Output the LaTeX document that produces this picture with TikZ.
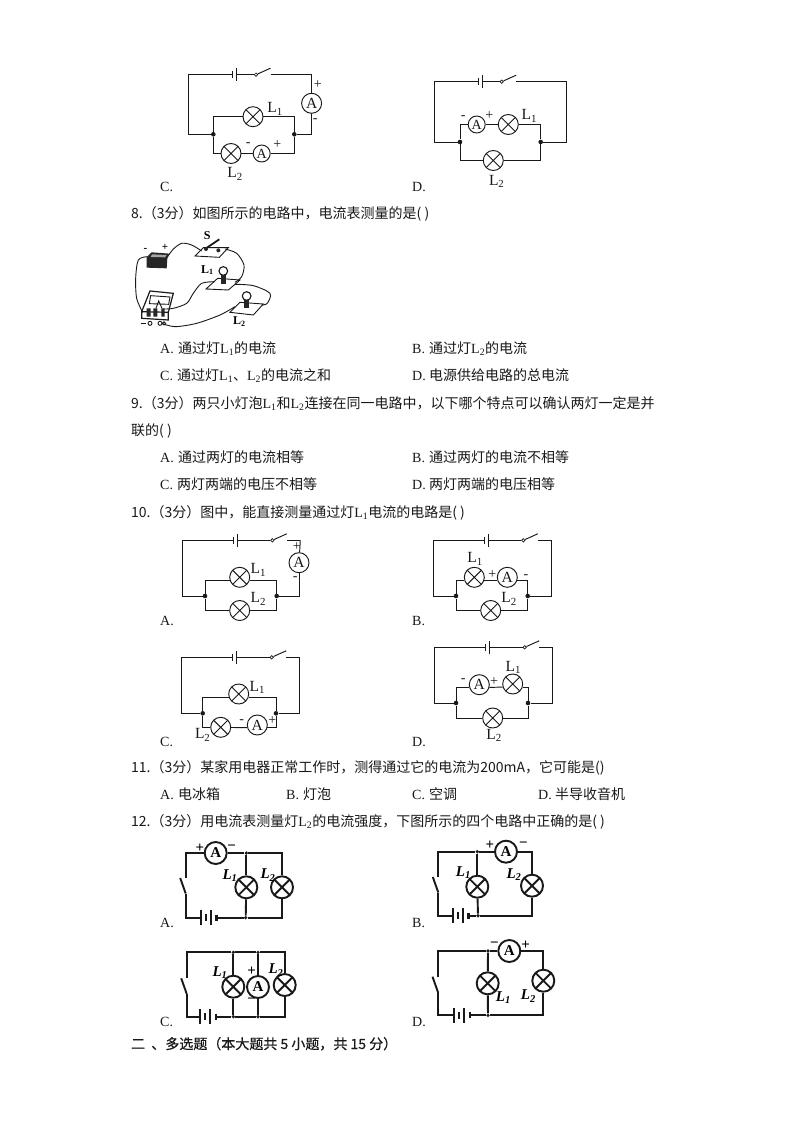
\documentclass[tikz,border=0pt]{standalone}
\usepackage{fontspec}
\usepackage{tikz}
\usetikzlibrary{calc, positioning}
\setmainfont{Noto Sans CJK SC}
\newfontfamily\latfont{Liberation Serif}
\newfontfamily\headfont[FakeBold=0.6]{Noto Sans CJK SC}
\newcommand{\Lone}{{\latfont L\textsubscript{1}}}
\newcommand{\Ltwo}{{\latfont L\textsubscript{2}}}
\definecolor{printink}{rgb}{0.1, 0.1, 0.1}
% top wire of a drawn circuit: name, left, top, battery, switch, right
\newcommand{\schtop}[6]{%
	\coordinate (#1bl) at (#4,#3);
	\coordinate (#1br) at (#4+4.4,#3);
	\node [swpivot] (#1sw) at (#5,#3) {};
	\coordinate (#1tip) at (#5+14.5,#3-6.5);
	\coordinate (#1sr) at (#5+14.5,#3);
	\coordinate (#1tl) at (#2,#3);
	\coordinate (#1tr) at (#6,#3);
	\draw [wire] (#4,#3-3.7) -- (#4,#3+3.7);
	\draw [wire] (#4+4.4,#3-6.3) -- (#4+4.4,#3+6.3);
	\draw [wire] (#1bl) -- (#1tl);
	\draw [wire] (#1br) -- (#1sw);
	\draw [wire] (#1sw) -- (#1tip);
	\draw [wire] (#1sr) -- (#1tr);
}
% battery and switch of a scanned circuit: name, left, switch top, battery, bottom
\newcommand{\scanpart}[5]{%
	\coordinate (#1st) at (#2,#3);
	\coordinate (#1sb) at (#2,#3+15.5);
	\coordinate (#1tip) at (#2-5.5,#3);
	\coordinate (#1bl) at (#4,#5);
	\coordinate (#1br) at (#4+16,#5);
	\draw [scanwire] (#1sb) -- (#1tip);
	\draw [scanwire] (#4,#5-7.5) -- (#4,#5+7.5);
	\draw [scanwire, line width=2.2pt] (#4+5.3,#5-3.5) -- (#4+5.3,#5+3.5);
	\draw [scanwire] (#4+10.3,#5-7.5) -- (#4+10.3,#5+7.5);
	\draw [scanwire, line width=2.6pt] (#4+16,#5-3) -- (#4+16,#5+3);
	\draw [scanwire] (#1sb) |- (#1bl);
}
\begin{document}
\begin{tikzpicture}[
x=1pt, y=-1pt,
texts/.style = {anchor=base west, inner sep=0pt, text=printink, font=\fontsize{14}{16}\selectfont},
boldtexts/.style = {texts, font=\fontsize{14}{16}\selectfont\headfont},
optmark/.style = {anchor=base west, inner sep=0pt, text=printink, font=\fontsize{14}{16}\selectfont\latfont},
cktlabel/.style = {inner sep=0pt, text=printink, font=\fontsize{15.5}{17}\selectfont\latfont},
polarity/.style = {inner sep=0pt, text=printink, font=\fontsize{14}{16}\selectfont\latfont},
scanlabel/.style = {inner sep=0pt, text=black, font=\fontsize{15}{17}\selectfont\latfont\bfseries\itshape},
scanpol/.style = {inner sep=0pt, text=black, font=\fontsize{15}{17}\selectfont\latfont\bfseries},
wire/.style = {draw=printink, line width=0.95pt},
scanwire/.style = {draw=black!90, line width=1.9pt},
lampnode/.style = {circle, wire, inner sep=0pt, minimum size=20pt,
	path picture={\draw [wire] (path picture bounding box.north west) -- (path picture bounding box.south east)
	(path picture bounding box.north east) -- (path picture bounding box.south west);}},
meternode/.style = {circle, wire, inner sep=0pt, minimum size=20pt, text=printink, font=\fontsize{15.5}{17}\selectfont\latfont},
smallmeter/.style = {meternode, minimum size=17pt, font=\fontsize{14}{16}\selectfont\latfont},
scanlamp/.style = {circle, scanwire, inner sep=0pt, minimum size=22pt,
	path picture={\draw [scanwire] (path picture bounding box.north west) -- (path picture bounding box.south east)
	(path picture bounding box.north east) -- (path picture bounding box.south west);}},
scanmeter/.style = {circle, scanwire, inner sep=0pt, minimum size=22pt, text=black, font=\fontsize{15}{17}\selectfont\latfont\bfseries},
swpivot/.style = {circle, wire, line width=0.7pt, fill=white, inner sep=0pt, minimum size=3.4pt},
jdot/.style = {circle, fill=printink, inner sep=0pt, minimum size=4.6pt},
scandot/.style = {circle, fill=black!90, inner sep=0pt, minimum size=3.6pt},
sketchline/.style = {draw=black!90, line width=0.9pt}
]
\useasboundingbox (0,0) rectangle (794,1123);
\fill [white] (0,0) rectangle (794,1123);

% circuit 7C
\schtop{sevc}{188}{74.7}{232.3}{256}{311.6}
\node [jdot] (sevcjl) at (213.3,134.3) {};
\node [jdot] (sevcjr) at (294.3,134.3) {};
\node [lampnode] (sevclone) at (253,116.7) {};
\node [lampnode] (sevcltwo) at (231,153.5) {};
\node [smallmeter] (sevcmeter) at (261.7,153.5) {A};
\node [meternode] (sevcmain) at (311.6,103.3) {A};
\draw [wire] (sevctl) |- (sevcjl);
\draw [wire] (sevctr) -- (sevcmain);
\draw [wire] (sevcmain) |- (sevcjr);
\draw [wire] (sevcjl) |- (sevclone);
\draw [wire] (sevclone) -| (sevcjr);
\draw [wire] (sevcjl) |- (sevcltwo);
\draw [wire] (sevcltwo) -- (sevcmeter);
\draw [wire] (sevcmeter) -| (sevcjr);
\node [cktlabel] (sevcnl) at (275,109) {L\textsubscript{1}};
\node [cktlabel] (sevcnt) at (235,174) {L\textsubscript{2}};
\node [polarity] (sevcpa) at (317.7,85) {+};
\node [polarity] (sevcpb) at (315.3,121) {-};
\node [polarity] (sevcpc) at (248.3,144.3) {-};
\node [polarity] (sevcpd) at (277.3,145) {+};
\node [optmark] (sevcopt) at (160,192) {C.};

% circuit 7D
\schtop{sevd}{434.3}{81.7}{478.3}{501.7}{566.7}
\node [jdot] (sevdjl) at (460,142) {};
\node [jdot] (sevdjr) at (540.7,142) {};
\node [smallmeter] (sevdmeter) at (476.7,124.5) {A};
\node [lampnode] (sevdlone) at (508.3,124.5) {};
\node [lampnode] (sevdltwo) at (493.3,160.5) {};
\draw [wire] (sevdtl) |- (sevdjl);
\draw [wire] (sevdtr) |- (sevdjr);
\draw [wire] (sevdjl) |- (sevdmeter);
\draw [wire] (sevdmeter) -- (sevdlone);
\draw [wire] (sevdlone) -| (sevdjr);
\draw [wire] (sevdjl) |- (sevdltwo);
\draw [wire] (sevdltwo) -| (sevdjr);
\node [cktlabel] (sevdnl) at (529.3,116) {L\textsubscript{1}};
\node [cktlabel] (sevdnt) at (496.7,181.7) {L\textsubscript{2}};
\node [polarity] (sevdpa) at (463.3,117.3) {-};
\node [polarity] (sevdpb) at (489.3,115.3) {+};
\node [optmark] (sevdopt) at (412,192) {D.};

% question 8
\node [texts] (qeight) at (131,218.5) {8.（3分）如图所示的电路中，电流表测量的是( )};
\begin{scope}[shift={(120,225)}, x=0.3333pt, y=-0.3333pt]
\fill [black!85] (80,97) -- (95,82) -- (150,86) -- (142,100) -- (140,130) -- (80,128) -- cycle;
\fill [black!35] (96,88) -- (140,90) -- (135,97) -- (92,96) -- cycle;
\draw [sketchline] plot [smooth] coordinates {(148,88) (160,72) (185,55) (215,60) (245,78)};
\draw [sketchline] plot [smooth] coordinates {(82,95) (55,105) (47,160) (50,220) (68,262)};
\draw [sketchline] (225,93) -- (250,68) -- (325,68) -- (298,97) -- cycle;
\draw [sketchline, line width=1.8pt] (255,72) -- (298,43);
\fill [black!85] (258,72) circle (6) (295,76) circle (6);
\draw [sketchline] plot [smooth] coordinates {(315,72) (350,85) (372,120) (365,155) (345,172)};
\draw [sketchline] (258,192) -- (293,160) -- (360,165) -- (325,195) -- cycle;
\draw [sketchline, line width=1.1pt] (310,138) circle (13);
\fill [black!85] (303,150) rectangle (317,178);
\draw [sketchline] plot [smooth] coordinates {(285,170) (245,175) (220,205) (200,235) (160,250) (130,252)};
\draw [sketchline] plot [smooth] coordinates {(345,178) (400,182) (450,205) (442,235) (425,240)};
\draw [sketchline] (330,262) -- (360,232) -- (430,237) -- (400,270) -- cycle;
\draw [sketchline, line width=1.1pt] (380,213) circle (13);
\fill [black!85] (373,226) rectangle (387,250);
\draw [sketchline] plot [smooth] coordinates {(345,245) (300,270) (230,295) (165,305) (125,295)};
\draw [sketchline, line width=1.2pt] (65,260) -- (90,198) -- (160,205) -- (145,262) -- cycle;
\draw [sketchline, line width=1.2pt] (65,260) -- (65,280) -- (145,285) -- (145,262);
\draw [sketchline] (92,212) -- (150,216) -- (146,238) -- (88,236) -- cycle;
\fill [black!85] (80,250) rectangle (92,275) (100,250) rectangle (112,275) (124,250) rectangle (134,275);
\draw [sketchline] (108,250) -- (116,228) -- (126,250);
\draw [sketchline] (90,295) circle (6) (120,295) circle (6) (132,295) circle (5);
\draw [sketchline, line width=1.1pt] (62,295) -- (78,295);
\node [inner sep=0pt, font=\fontsize{11}{12}\selectfont\latfont\bfseries] (skplus) at (135,68) {+};
\node [inner sep=0pt, font=\fontsize{11}{12}\selectfont\latfont\bfseries] (skminus) at (76,76) {-};
\node [inner sep=0pt, font=\fontsize{12}{13}\selectfont\latfont\bfseries] (sks) at (262,33) {S};
\node [inner sep=0pt, font=\fontsize{12}{13}\selectfont\latfont\bfseries] (skla) at (262,135) {L\textsubscript{1}};
\node [inner sep=0pt, font=\fontsize{12}{13}\selectfont\latfont\bfseries] (sklb) at (358,290) {L\textsubscript{2}};
\end{scope}
\node [optmark] (eighta) at (160,353) {A.};
\node [texts] (eightat) at (178,353) {通过灯\Lone 的电流};
\node [optmark] (eightb) at (412,353) {B.};
\node [texts] (eightbt) at (429,353) {通过灯\Ltwo 的电流};
\node [optmark] (eightc) at (160,380) {C.};
\node [texts] (eightct) at (177,380) {通过灯\Lone 、\Ltwo 的电流之和};
\node [optmark] (eightd) at (412,380) {D.};
\node [texts] (eightdt) at (429,380) {电源供给电路的总电流};

% question 9
\node [texts] (qnine) at (131,408) {9.（3分）两只小灯泡\Lone 和\Ltwo 连接在同一电路中，以下哪个特点可以确认两灯一定是并};
\node [texts] (qninecont) at (131,435) {联的( )};
\node [optmark] (ninea) at (160,462) {A.};
\node [texts] (nineat) at (178,462) {通过两灯的电流相等};
\node [optmark] (nineb) at (412,462) {B.};
\node [texts] (ninebt) at (429,462) {通过两灯的电流不相等};
\node [optmark] (ninec) at (160,489) {C.};
\node [texts] (ninect) at (177,489) {两灯两端的电压不相等};
\node [optmark] (nined) at (412,489) {D.};
\node [texts] (ninedt) at (429,489) {两灯两端的电压相等};

% question 10
\node [texts] (qten) at (131,517) {10.（3分）图中，能直接测量通过灯\Lone 电流的电路是( )};

\schtop{tena}{182.3}{540.3}{233}{272.3}{300.3}
\node [jdot] (tenajl) at (205,596) {};
\node [jdot] (tenajr) at (276.7,596) {};
\node [lampnode] (tenalone) at (239.7,577.3) {};
\node [lampnode] (tenaltwo) at (239.7,610.5) {};
\node [meternode] (tenameter) at (299,562.7) {A};
\draw [wire] (tenatl) |- (tenajl);
\draw [wire] (tenatr) -- (tenameter);
\draw [wire] (tenameter) |- (tenajr);
\draw [wire] (tenajl) |- (tenalone.200);
\draw [wire] (tenalone.-20) -| (tenajr);
\draw [wire] (tenajl) |- (tenaltwo);
\draw [wire] (tenaltwo) -| (tenajr);
\node [cktlabel] (tenanl) at (258.3,570) {L\textsubscript{1}};
\node [cktlabel] (tenant) at (258.3,599) {L\textsubscript{2}};
\node [polarity] (tenapa) at (296.7,546.7) {+};
\node [polarity] (tenapb) at (295.3,579) {-};
\node [optmark] (tenaopt) at (160,625) {A.};

\schtop{tenb}{433.3}{540.3}{484}{523.3}{551.3}
\node [jdot] (tenbjl) at (456,596) {};
\node [jdot] (tenbjr) at (527.7,596) {};
\node [lampnode] (tenblone) at (474.3,577.3) {};
\node [meternode] (tenbmeter) at (507.3,577.3) {A};
\node [lampnode] (tenbltwo) at (490.7,610.5) {};
\draw [wire] (tenbtl) |- (tenbjl);
\draw [wire] (tenbtr) |- (tenbjr);
\draw [wire] (tenbjl) |- (tenblone.200);
\draw [wire] (tenblone.-20) -- (tenbmeter.200);
\draw [wire] (tenbmeter.-20) -| (tenbjr);
\draw [wire] (tenbjl) |- (tenbltwo);
\draw [wire] (tenbltwo) -| (tenbjr);
\node [cktlabel] (tenbnl) at (475,559) {L\textsubscript{1}};
\node [cktlabel] (tenbnt) at (509,599) {L\textsubscript{2}};
\node [polarity] (tenbpa) at (492.3,575) {+};
\node [polarity] (tenbpb) at (526,576.3) {-};
\node [optmark] (tenbopt) at (412,625) {B.};

\schtop{tenc}{181.3}{657.3}{232}{271.7}{299.3}
\node [jdot] (tencjl) at (202.7,713.3) {};
\node [jdot] (tencjr) at (276,713.3) {};
\node [lampnode] (tenclone) at (238.7,694) {};
\node [lampnode] (tencltwo) at (220.7,727.3) {};
\node [meternode] (tencmeter) at (257.3,725) {A};
\draw [wire] (tenctl) |- (tencjl);
\draw [wire] (tenctr) |- (tencjr);
\draw [wire] (tencjl) |- (tenclone.200);
\draw [wire] (tenclone.-20) -| (tencjr);
\draw [wire] (tencjl) |- (tencltwo);
\draw [wire] (tencltwo) -- (tencmeter.195);
\draw [wire] (tencmeter.-15) -| (tencjr);
\node [cktlabel] (tencnl) at (257.3,687.3) {L\textsubscript{1}};
\node [cktlabel] (tencnt) at (202.7,735) {L\textsubscript{2}};
\node [polarity] (tencpa) at (241.7,721.7) {-};
\node [polarity] (tencpb) at (272.3,721) {+};
\node [optmark] (tencopt) at (160,746) {C.};

\schtop{tend}{434.3}{647.3}{485}{524.7}{552.3}
\node [jdot] (tendjl) at (456,703) {};
\node [jdot] (tendjr) at (528,703) {};
\node [meternode] (tendmeter) at (479.3,684.7) {A};
\node [lampnode] (tendlone) at (512.7,684) {};
\node [lampnode] (tendltwo) at (492.7,718) {};
\draw [wire] (tendtl) |- (tendjl);
\draw [wire] (tendtr) |- (tendjr);
\draw [wire] (tendjl) |- (tendmeter.195);
\draw [wire] (tendmeter.-15) -- (tendlone.197);
\draw [wire] (tendlone.-17) -| (tendjr);
\draw [wire] (tendjl) |- (tendltwo);
\draw [wire] (tendltwo) -| (tendjr);
\node [cktlabel] (tendnl) at (513.3,667.3) {L\textsubscript{1}};
\node [cktlabel] (tendnt) at (494,735.7) {L\textsubscript{2}};
\node [polarity] (tendpa) at (463.3,680.7) {-};
\node [polarity] (tendpb) at (494,681.7) {+};
\node [optmark] (tendopt) at (412,746) {D.};

% question 11
\node [texts] (qeleven) at (131,772) {11.（3分）某家用电器正常工作时，测得通过它的电流为200mA，它可能是()};
\node [optmark] (elevena) at (160,799) {A.};
\node [texts] (elevenat) at (178,799) {电冰箱};
\node [optmark] (elevenb) at (286,799) {B.};
\node [texts] (elevenbt) at (303,799) {灯泡};
\node [optmark] (elevenc) at (412,799) {C.};
\node [texts] (elevenct) at (429,799) {空调};
\node [optmark] (elevend) at (538,799) {D.};
\node [texts] (elevendt) at (555,799) {半导收音机};

% question 12
\node [texts] (qtwelve) at (131,826) {12.（3分）用电流表测量灯\Ltwo 的电流强度，下图所示的四个电路中正确的是( )};

\scanpart{twa}{185.7}{878}{200.7}{917.7}
\node [scanmeter] (twameter) at (215.7,853) {A};
\node [scandot] (twajt) at (246.3,853) {};
\node [scandot] (twajb) at (245.7,917.7) {};
\node [scanlamp] (twalone) at (246.3,887.3) {};
\node [scanlamp] (twaltwo) at (282,887.3) {};
\draw [scanwire] (twast) |- (twameter);
\draw [scanwire] (twameter) -- (twajt);
\draw [scanwire] (twajt) -| (twaltwo);
\draw [scanwire] (twajt) -- (twalone);
\draw [scanwire] (twalone) -- (twajb);
\draw [scanwire] (twabr) -- (twajb);
\draw [scanwire] (twajb) -| (twaltwo);
\node [scanlabel] (twanl) at (230,875.7) {L\textsubscript{1}};
\node [scanlabel] (twant) at (268,875) {L\textsubscript{2}};
\node [scanpol] (twapa) at (200,848.3) {+};
\node [scanpol] (twapb) at (231.7,847.7) {−};
\node [optmark] (twaopt) at (160,927) {A.};

\scanpart{twb}{438.3}{877}{452.7}{915.7}
\node [scanmeter] (twbmeter) at (506,851.7) {A};
\node [scandot] (twbjt) at (477.3,851.7) {};
\node [scandot] (twbjb) at (478,915.7) {};
\node [scanlamp] (twblone) at (477.3,886.7) {};
\node [scanlamp] (twbltwo) at (532,885.7) {};
\draw [scanwire] (twbst) |- (twbjt);
\draw [scanwire] (twbjt) -- (twbmeter);
\draw [scanwire] (twbmeter) -| (twbltwo);
\draw [scanwire] (twbjt) -- (twblone);
\draw [scanwire] (twblone) -- (twbjb);
\draw [scanwire] (twbbr) -- (twbjb);
\draw [scanwire] (twbjb) -| (twbltwo);
\node [scanlabel] (twbnl) at (463.3,872.3) {L\textsubscript{1}};
\node [scanlabel] (twbnt) at (514,874.3) {L\textsubscript{2}};
\node [scanpol] (twbpa) at (490,845) {+};
\node [scanpol] (twbpb) at (523.3,845) {−};
\node [optmark] (twbopt) at (412,927) {B.};

\scanpart{twc}{186.7}{978.3}{200}{1016.7}
\node [scandot] (twcjta) at (233.3,952.3) {};
\node [scandot] (twcjtb) at (258,952.3) {};
\node [scandot] (twcjba) at (233.3,1016.7) {};
\node [scandot] (twcjbb) at (258,1016.7) {};
\node [scanlamp] (twclone) at (233.3,986.7) {};
\node [scanmeter] (twcmeter) at (258,987) {A};
\node [scanlamp] (twcltwo) at (284.7,985) {};
\draw [scanwire] (twcst) |- (twcjta);
\draw [scanwire] (twcjta) -- (twcjtb);
\draw [scanwire] (twcjtb) -| (twcltwo);
\draw [scanwire] (twcjta) -- (twclone);
\draw [scanwire] (twclone) -- (twcjba);
\draw [scanwire] (twcjtb) -- (twcmeter);
\draw [scanwire] (twcmeter) -- (twcjbb);
\draw [scanwire] (twcbr) -- (twcjba);
\draw [scanwire] (twcjba) -- (twcjbb);
\draw [scanwire] (twcjbb) -| (twcltwo);
\node [scanlabel] (twcnl) at (220,972.3) {L\textsubscript{1}};
\node [scanlabel] (twcnt) at (276,970) {L\textsubscript{2}};
\node [scanpol] (twcpa) at (251.7,971) {+};
\node [scanpol] (twcpb) at (251.7,1000.7) {−};
\node [optmark] (twcopt) at (160,1026) {C.};

\scanpart{twd}{438}{976.7}{454}{1015.3}
\node [scanmeter] (twdmeter) at (509.3,951) {A};
\node [scandot] (twdjt) at (488,951) {};
\node [scandot] (twdjb) at (488,1015.3) {};
\node [scanlamp] (twdlone) at (487.7,983.3) {};
\node [scanlamp] (twdltwo) at (543.3,980.7) {};
\draw [scanwire] (twdst) |- (twdjt);
\draw [scanwire] (twdjt) -- (twdmeter);
\draw [scanwire] (twdmeter) -| (twdltwo);
\draw [scanwire] (twdjt) -- (twdlone);
\draw [scanwire] (twdlone) -- (twdjb);
\draw [scanwire] (twdbr) -- (twdjb);
\draw [scanwire] (twdjb) -| (twdltwo);
\node [scanlabel] (twdnl) at (503.3,997.3) {L\textsubscript{1}};
\node [scanlabel] (twdnt) at (528.3,996) {L\textsubscript{2}};
\node [scanpol] (twdpa) at (494.3,945) {−};
\node [scanpol] (twdpb) at (525.7,945) {+};
\node [optmark] (twdopt) at (412,1026) {D.};

\node [boldtexts] (sectwo) at (131,1049) {二 \hspace{3pt}、多选题（本大题共 5 小题，共 15 分）};
\end{tikzpicture}
\end{document}
